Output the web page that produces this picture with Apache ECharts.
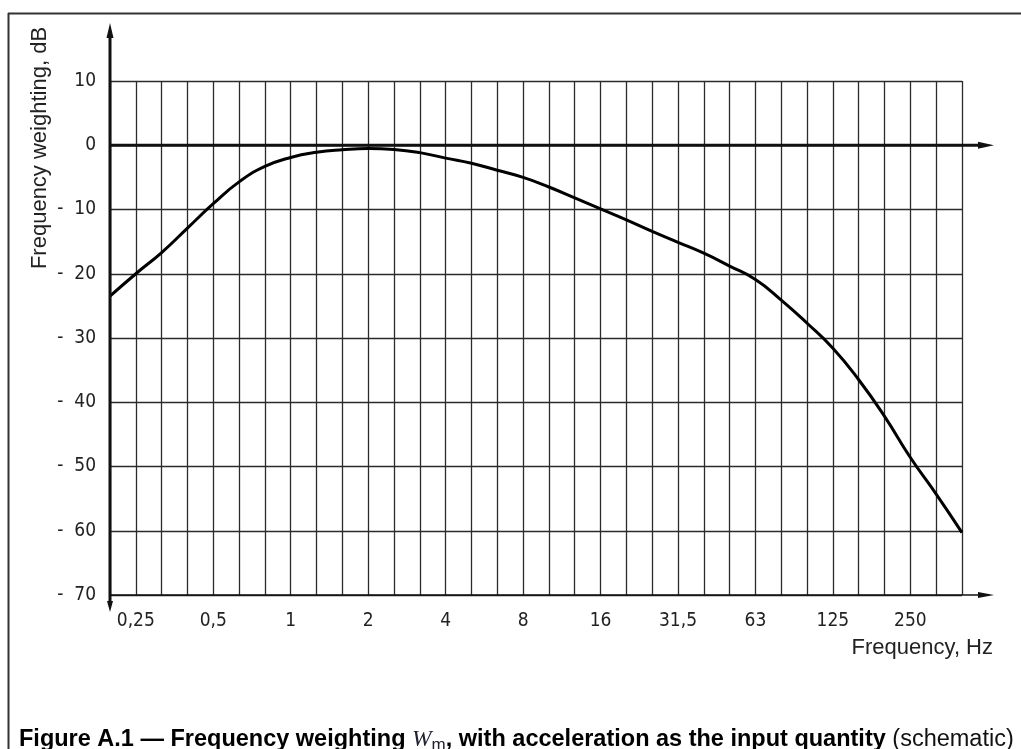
<!DOCTYPE html>
<html><head><meta charset="utf-8">
<script src="https://cdn.jsdelivr.net/npm/echarts@6/dist/echarts.min.js"></script>
<style>html,body{margin:0;padding:0;background:#fff}#c{width:1021px;height:749px}</style>
</head><body><div id="c"></div>
<script>
// Third-octave band centre frequencies (Hz), nominal labels
const bands = ['0,2','0,25','0,315','0,4','0,5','0,63','0,8','1','1,25','1,6','2','2,5','3,15','4','5','6,3','8','10','12,5','16','20','25','31,5','40','50','63','80','100','125','160','200','250','315','400'];
// Frequency weighting Wm (dB) at each band
const weights = [-23.5,-20.0,-16.7,-12.9,-9.1,-5.7,-3.3,-1.9,-1.1,-0.7,-0.5,-0.65,-1.15,-2.0,-2.8,-3.9,-5.0,-6.5,-8.2,-9.9,-11.6,-13.4,-15.1,-16.8,-18.8,-20.9,-24.1,-27.7,-31.6,-36.5,-42.2,-48.6,-54.3,-60.3];
// Labelled x ticks
const shownTicks = ['0,25','0,5','1','2','4','8','16','31,5','63','125','250'];
// y axis range/ticks
const yMin = -70, yMax = 10, yStep = 10;

const tickFont = "'DejaVu Sans Condensed',sans-serif";
const textFont = "'Liberation Sans',Arial,sans-serif";
const gridColor = '#2b2b2b';

const chart = echarts.init(document.getElementById('c'), null, {renderer:'canvas'});
const option = {
  animation:false,
  backgroundColor:'#fff',
  grid:{left:110,right:59,top:81,bottom:154,containLabel:false},
  xAxis:{
    type:'category', data:bands, boundaryGap:false,
    axisLine:{show:false}, axisTick:{show:false},
    axisLabel:{
      interval:(i,v)=>shownTicks.indexOf(v)>=0,
      margin:17, color:'#222', fontSize:19, fontFamily:tickFont
    },
    splitLine:{show:true, interval:0, lineStyle:{color:gridColor, width:1.3}}
  },
  yAxis:{
    type:'value', min:yMin, max:yMax, interval:yStep,
    axisLine:{show:false}, axisTick:{show:false},
    axisLabel:{margin:14, color:'#222', fontSize:19, fontFamily:tickFont,
      formatter:v=> v<0 ? '-  '+(-v) : String(v)},
    splitLine:{show:true, lineStyle:{color:gridColor, width:1.3}}
  },
  series:[{
    type:'line', data:weights, symbol:'none', smooth:0.5, clip:false,
    lineStyle:{color:'#000', width:3}, z:5
  }]
};
chart.setOption(option);

const p = (i,v)=>chart.convertToPixel({gridIndex:0},[i,v]);
const x0 = p(0,0)[0], yZero = p(0,0)[1];
const x1 = p(bands.length-1,0)[0];
const yTop = p(0,yMax)[1], yBot = p(0,yMin)[1];

const line = (ax,ay,bx,by,w,c)=>({type:'line',z:10,shape:{x1:ax,y1:ay,x2:bx,y2:by},style:{stroke:c||'#111',lineWidth:w}});
const tri = (pts)=>({type:'polygon',z:10,shape:{points:pts},style:{fill:'#111'}});

chart.setOption({graphic:[
  // frame
  line(8,13.5,1021,13.5,2,'#333'),
  line(8.5,13,8.5,749,2,'#333'),
  // y axis with arrows
  line(x0,yTop-48,x0,yBot+8,3),
  tri([[x0,yTop-58],[x0-3.5,yTop-43],[x0+3.5,yTop-43]]),
  tri([[x0,yBot+17],[x0-3,yBot+6],[x0+3,yBot+6]]),
  // zero line with arrow
  line(x0,yZero,x1+20,yZero,3),
  tri([[x1+32,yZero],[x1+16,yZero-3.5],[x1+16,yZero+3.5]]),
  // bottom line with arrow
  line(x0,yBot,x1+20,yBot,1.6),
  tri([[x1+32,yBot],[x1+16,yBot-3],[x1+16,yBot+3]]),
  // axis names
  {type:'text',z:10,x:40,y:148,rotation:Math.PI/2,
    style:{text:'Frequency weighting, dB',font:'22px '+textFont,fill:'#222',align:'center',verticalAlign:'middle'}},
  {type:'text',z:10,x:x1+31,y:648,
    style:{text:'Frequency, Hz',font:'22px '+textFont,fill:'#222',align:'right',verticalAlign:'middle'}},
  // caption
  {type:'text',z:10,x:19,y:740,
    style:{
      text:'{b|Figure A.1 \u2014 Frequency weighting }{w|W}{s|m}{b|, with acceleration as the input quantity}{r| (schematic)}',
      verticalAlign:'middle',
      rich:{
        b:{font:'bold 23.5px '+textFont,fill:'#000'},
        w:{font:"italic 23.5px 'Liberation Serif','DejaVu Serif',serif",fill:'#223'},
        s:{font:'17px '+textFont,fill:'#223',padding:[10,0,0,0]},
        r:{font:'23.5px '+textFont,fill:'#111'}
      }
    }}
]});
</script></body></html>
